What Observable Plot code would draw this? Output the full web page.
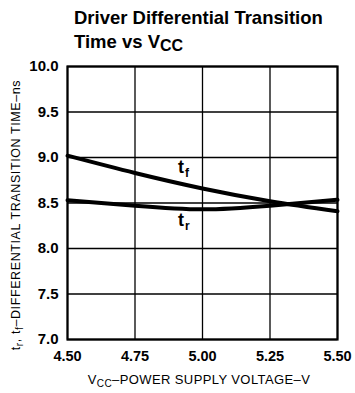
<!DOCTYPE html>
<html>
<head>
<meta charset="utf-8">
<script src="https://cdn.jsdelivr.net/npm/d3@7"></script>
<script src="https://cdn.jsdelivr.net/npm/@observablehq/plot@0.6"></script>
<style>
  html, body { margin: 0; padding: 0; background: #fff; }
  #wrap { position: relative; width: 355px; height: 393px; overflow: hidden; }
  #title { position: absolute; left: 74px; top: 6px; font-family: "Liberation Sans", Arial, sans-serif; font-weight: bold; font-size: 18.5px; line-height: 24px; color: #000; letter-spacing: 0px; }
  #title sub { font-size: 16px; vertical-align: -3px; line-height: 0; }
  #chart { position: absolute; left: 0; top: 58px; }
</style>
</head>
<body>
<div id="wrap">
  <div id="title">Driver Differential Transition<br>Time vs V<sub>CC</sub></div>
  <div id="chart"></div>
</div>
<script>
const vcc = [4.50, 4.75, 5.00, 5.25, 5.50];
const tf = [9.02, 8.83, 8.66, 8.52, 8.41];
const tr = [8.53, 8.47, 8.43, 8.47, 8.535];
const xTicks = [4.50, 4.75, 5.00, 5.25, 5.50];
const yTicks = [7.0, 7.5, 8.0, 8.5, 9.0, 9.5, 10.0];
const curveLabels = [
  {x: 4.92, y: 8.89, main: "t", sub: "f"},
  {x: 4.92, y: 8.31, main: "t", sub: "r"}
];

const tfData = vcc.map((v, i) => ({x: v, y: tf[i]}));
const trData = vcc.map((v, i) => ({x: v, y: tr[i]}));

const plot = Plot.plot({
  width: 355,
  height: 335,
  marginLeft: 67,
  marginRight: 18,
  marginTop: 8,
  marginBottom: 54,
  style: {fontFamily: "'Liberation Sans', Arial, sans-serif", background: "#fff", color: "#000"},
  x: {domain: [4.5, 5.5], ticks: xTicks, tickFormat: d3.format(".2f"), label: null},
  y: {domain: [7, 10], ticks: yTicks, tickFormat: d3.format(".1f"), label: null},
  marks: [
    Plot.gridX(xTicks, {stroke: "#000", strokeOpacity: 1, strokeWidth: 1.3}),
    Plot.gridY(yTicks, {stroke: "#000", strokeOpacity: 1, strokeWidth: 1.3}),
    Plot.frame({stroke: "#000", strokeWidth: 2.2}),
    Plot.axisX(xTicks, {tickSize: 0, tickPadding: 11, fontSize: 14.5, fontWeight: "bold", tickFormat: d3.format(".2f"), label: null}),
    Plot.axisY(yTicks, {tickSize: 0, tickPadding: 9, fontSize: 15, fontWeight: "bold", tickFormat: d3.format(".1f"), label: null}),
    Plot.line(tfData, {x: "x", y: "y", curve: "natural", stroke: "#000", strokeWidth: 4}),
    Plot.line(trData, {x: "x", y: "y", curve: "natural", stroke: "#000", strokeWidth: 4}),
    Plot.text(curveLabels, {x: "x", y: "y", text: "main", fontSize: 18, fontWeight: "bold", textAnchor: "middle"}),
    Plot.text(curveLabels, {x: "x", y: "y", text: "sub", fontSize: 12, fontWeight: "bold", textAnchor: "start", dx: 4, dy: 6})
  ]
});
document.getElementById("chart").appendChild(plot);

const svg = d3.select(plot);
const labelFont = "'Liberation Sans', Arial, sans-serif";
// x axis label
const xl = svg.append("text")
  .attr("x", 199).attr("y", 326)
  .attr("text-anchor", "middle")
  .attr("font-family", labelFont).attr("font-size", 13).attr("letter-spacing", 0.4)
  .attr("fill", "#000");
xl.append("tspan").text("V");
xl.append("tspan").attr("font-size", 10).attr("dy", 3).text("CC");
xl.append("tspan").attr("dy", -3).text("–POWER SUPPLY VOLTAGE–V");

// y axis label
const yl = svg.append("text")
  .attr("transform", "translate(20,157) rotate(-90)")
  .attr("text-anchor", "middle")
  .attr("font-family", labelFont).attr("font-size", 12.5).attr("letter-spacing", 0.6)
  .attr("fill", "#000");
yl.append("tspan").text("t");
yl.append("tspan").attr("font-size", 10).attr("dy", 3).text("r");
yl.append("tspan").attr("dy", -3).text(", t");
yl.append("tspan").attr("font-size", 10).attr("dy", 3).text("f");
yl.append("tspan").attr("dy", -3).text("–DIFFERENTIAL TRANSITION TIME–ns");
</script>
</body>
</html>
